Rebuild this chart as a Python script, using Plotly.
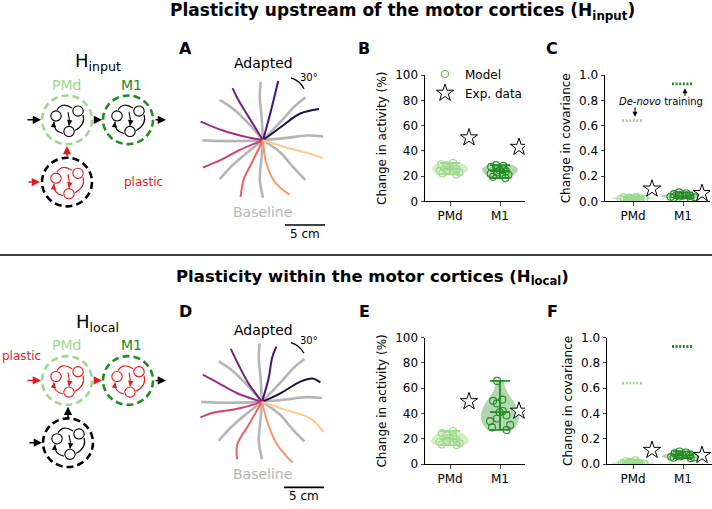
import plotly.graph_objects as go
import numpy as np

W, H = 712, 509

# ---------------- data ----------------
categories = ["PMd", "M1"]
cat_pos = [0, 1]

# H_input: change in activity (%) of model networks
act_input_pmd = [30.5, 29.5, 28.6, 27.8, 26.8, 25.8, 25.0, 24.2, 23.0, 22.2, 21.4]
act_input_m1 = [28.8, 28.2, 27.4, 26.4, 25.6, 24.8, 24.0, 23.0, 22.0, 21.0, 19.6, 18.5]
# H_input: change in covariance
cov_input_pmd = [0.038, 0.034, 0.031, 0.029, 0.027, 0.025, 0.024, 0.022, 0.020, 0.018, 0.016]
cov_input_m1 = [0.072, 0.065, 0.058, 0.053, 0.049, 0.046, 0.043, 0.040, 0.037, 0.033, 0.030, 0.026]
# H_local: change in activity (%)
act_local_pmd = [26.2, 24.5, 23.0, 22.0, 20.5, 19.5, 18.5, 17.5, 16.5, 15.5, 15.0]
act_local_m1 = [65.8, 51.0, 50.0, 48.0, 42.0, 41.0, 38.5, 36.0, 34.0, 31.0, 29.0, 27.0]
# H_local: change in covariance
cov_local_pmd = [0.030, 0.022, 0.018, 0.014, 0.012, 0.010, 0.008, 0.006, 0.005, 0.003, 0.002]
cov_local_m1 = [0.100, 0.092, 0.085, 0.078, 0.072, 0.068, 0.064, 0.060, 0.057, 0.054, 0.050, 0.047]

# experimental data (PMd, M1)
exp_act_input = [50.5, 43.0]
exp_cov_input = [0.10, 0.065]
exp_act_local = [49.5, 42.0]
exp_cov_local = [0.11, 0.07]
# de-novo training covariance change (PMd, M1)
denovo_cov = [0.64, 0.93]

# reaching trajectories (cm, relative to start)
baseline_x = [[0, -0.2, -0.4, -0.3], [0, 2.5, 4.0, 5.3], [0, 3.0, 5.5, 7.5], [0, 2.2, 3.8, 5.3],
              [0, -0.2, -0.4, 0.0], [0, -2.0, -3.9, -5.4], [0, -2.8, -5.4, -7.6], [0, -1.6, -3.7, -5.4]]
baseline_y = [[0, 3.3, 5.5, 7.5], [0, 2.7, 4.4, 5.5], [0, 0.3, 0.6, 0.5], [0, -1.6, -3.5, -5.1],
              [0, -2.5, -5.0, -7.4], [0, -1.6, -3.3, -5.0], [0, -0.1, -0.1, 0.0], [0, 1.9, 4.0, 5.2]]
adapted_input_x = [[0, 2.5, 4.6, 7.0], [0, 0.9, 1.5, 1.9], [0, -1.8, -3.2, -3.8], [0, -2.0, -5.0, -7.8],
                   [0, -2.9, -5.4, -7.5], [0, -1.4, -2.4, -2.8], [0, 0.4, 1.5, 3.3], [0, 2.5, 5.0, 7.5]]
adapted_input_y = [[0, 1.9, 3.4, 4.0], [0, 3.4, 5.9, 7.6], [0, 3.0, 5.4, 6.7], [0, 0.4, 1.25, 2.4],
                   [0, -1.25, -2.6, -3.5], [0, -2.9, -5.0, -7.3], [0, -2.9, -5.4, -7.0], [0, -0.8, -1.5, -2.3]]
adapted_local_x = [[0, 2.3, 4.8, 6.3, 7.3], [0, 0.8, 1.3, 1.8], [0, -1.7, -3.1, -3.9], [0, -3.1, -5.6, -7.4],
                   [0, -3.1, -6.1, -7.7], [0, -1.7, -3.1, -3.1], [0, 0.8, 1.9, 3.8], [0, 3.1, 6.0, 7.7]]
adapted_local_y = [[0, 1.1, 2.6, 3.0, 2.5], [0, 2.9, 5.8, 7.1], [0, 2.4, 5.1, 6.8], [0, 1.1, 2.5, 3.5],
                   [0, -0.9, -1.4, -2.0], [0, -3.0, -5.5, -7.4], [0, -3.0, -5.5, -7.8], [0, -1.1, -2.1, -3.9]]
scale_bar_cm = 5

# ---------------- styles ----------------
FONT = "DejaVu Sans"
PMD_C = "#9fd88c"
M1_C = "#228b22"
PMD_FILL = "rgba(159,216,140,0.45)"
M1_FILL = "rgba(34,139,34,0.35)"
GRAY = "#b5b5b5"
MAGMA = ["#1c1044", "#4a1079", "#721f81", "#9e2f7f", "#cd4071", "#f1605d", "#fd9567", "#fec98d"]
RED = "#e31a1c"


def dx(a, b):
    return [a / W, b / W]


def dy(top, bottom):
    return [1 - bottom / H, 1 - top / H]


fig = go.Figure()

layout = dict(
    width=W, height=H, margin=dict(l=0, r=0, t=0, b=0),
    paper_bgcolor="white", plot_bgcolor="rgba(0,0,0,0)",
    font=dict(family=FONT, size=12, color="black"),
    violinmode="overlay", hovermode=False,
    legend=dict(x=425 / W, y=1 - 54 / H, xanchor="left", yanchor="top",
                bgcolor="rgba(0,0,0,0)", font=dict(size=12), itemwidth=30,
                tracegroupgap=0),
)


def data_axes(n, xdom, ydom, yrange, ytick, ytext, ytitle, xrange):
    layout[f"xaxis{n}"] = dict(domain=xdom, range=xrange, anchor=f"y{n}", tickvals=cat_pos,
                               ticktext=categories, showline=True, linecolor="black", linewidth=1,
                               ticks="outside", ticklen=3.5, showgrid=False, zeroline=False,
                               tickfont=dict(size=12), fixedrange=True)
    layout[f"yaxis{n}"] = dict(domain=ydom, range=yrange, anchor=f"x{n}", tickvals=ytick,
                               ticktext=ytext, showline=True, linecolor="black", linewidth=1,
                               ticks="outside", ticklen=3.5, showgrid=False, zeroline=False,
                               tickfont=dict(size=12), fixedrange=True,
                               title=dict(text=ytitle, font=dict(size=12), standoff=5))


act_ticks = [0, 20, 40, 60, 80, 100]
cov_ticks = [0, 0.2, 0.4, 0.6, 0.8, 1.0]
cov_text = [f"{v:.1f}" for v in cov_ticks]
data_axes(1, dx(425, 525), dy(70, 200), [0, 100], act_ticks, [str(v) for v in act_ticks],
          "Change in activity (%)", [-0.5, 1.5])
data_axes(2, dx(605, 710), dy(70, 200), [0, 1], cov_ticks, cov_text,
          "Change in covariance", [-0.56, 1.54])
data_axes(3, dx(425, 525), dy(340, 470), [0, 100], act_ticks, [str(v) for v in act_ticks],
          "Change in activity (%)", [-0.5, 1.5])
data_axes(4, dx(607, 712), dy(340, 470), [0, 1], cov_ticks, cov_text,
          "Change in covariance", [-0.52, 1.58])

# trajectory axes (cm)
for n, xdom, ydom in [(5, dx(183, 343), dy(47, 237)), (6, dx(182, 342), dy(316, 506))]:
    layout[f"xaxis{n}"] = dict(domain=xdom, range=[-10, 10], anchor=f"y{n}", visible=False, fixedrange=True)
    layout[f"yaxis{n}"] = dict(domain=ydom, range=[-12.5, 11.25], anchor=f"x{n}", visible=False, fixedrange=True)
# overlay pixel axis for diagrams & labels
layout["xaxis7"] = dict(domain=[0, 1], range=[0, W], anchor="y7", visible=False, fixedrange=True)
layout["yaxis7"] = dict(domain=[0, 1], range=[H, 0], anchor="x7", visible=False, fixedrange=True)


def add_violin(vals, pos, color, fill, n, width):
    fig.add_trace(go.Violin(
        x=[pos] * len(vals), y=vals, xaxis=f"x{n}", yaxis=f"y{n}", width=width,
        spanmode="hard", fillcolor=fill, line=dict(color=fill, width=0.5),
        points="all", pointpos=0, jitter=0.7,
        marker=dict(symbol="circle-open", size=7, color=color, line=dict(width=1.1)),
        box_visible=False, meanline_visible=False, showlegend=False, hoverinfo="skip",
        scalemode="width", orientation="v"))
    lo, hi, mean = min(vals), max(vals), float(np.mean(vals))
    cap = 0.2
    fig.add_trace(go.Scatter(
        x=[pos, pos, None, pos - cap, pos + cap, None, pos - cap, pos + cap, None, pos - cap, pos + cap],
        y=[lo, hi, None, lo, lo, None, hi, hi, None, mean, mean],
        mode="lines", line=dict(color=color, width=1.8), xaxis=f"x{n}", yaxis=f"y{n}",
        showlegend=False, hoverinfo="skip"))


def add_stars(vals, n, legend=False):
    fig.add_trace(go.Scatter(
        x=[p + 0.38 for p in cat_pos], y=vals, mode="markers", xaxis=f"x{n}", yaxis=f"y{n}",
        marker=dict(symbol="star", size=13, color="white", line=dict(color="black", width=1)),
        name="Exp. data", showlegend=legend, hoverinfo="skip"))


# legend model marker
fig.add_trace(go.Scatter(x=[None], y=[None], mode="markers", xaxis="x1", yaxis="y1", name="Model",
                         marker=dict(symbol="circle-open", size=7, color="#6cc35a", line=dict(width=1.2))))

add_violin(act_input_pmd, 0, PMD_C, PMD_FILL, 1, 0.7)
add_violin(act_input_m1, 1, M1_C, M1_FILL, 1, 0.7)
add_stars(exp_act_input, 1, legend=True)

add_violin(cov_input_pmd, 0, PMD_C, PMD_FILL, 2, 0.85)
add_violin(cov_input_m1, 1, M1_C, M1_FILL, 2, 0.85)
add_stars(exp_cov_input, 2)

add_violin(act_local_pmd, 0, PMD_C, PMD_FILL, 3, 0.75)
add_violin(act_local_m1, 1, M1_C, M1_FILL, 3, 0.75)
add_stars(exp_act_local, 3)

add_violin(cov_local_pmd, 0, PMD_C, PMD_FILL, 4, 0.85)
add_violin(cov_local_m1, 1, M1_C, M1_FILL, 4, 0.85)
add_stars(exp_cov_local, 4)

# de-novo training dotted levels
for n in (2, 4):
    for pos, v, c in zip(cat_pos, denovo_cov, [PMD_C, M1_C]):
        fig.add_trace(go.Scatter(x=[pos - 0.22, pos + 0.2], y=[v, v], mode="lines",
                                 line=dict(color=c, width=2.8, dash="2px,1.6px"),
                                 xaxis=f"x{n}", yaxis=f"y{n}", showlegend=False, hoverinfo="skip"))

# trajectories
for n, ax_, ay_ in [(5, adapted_input_x, adapted_input_y), (6, adapted_local_x, adapted_local_y)]:
    for bx, by in zip(baseline_x, baseline_y):
        fig.add_trace(go.Scatter(x=bx, y=by, mode="lines", line=dict(color=GRAY, width=2.6, shape="spline"),
                                 xaxis=f"x{n}", yaxis=f"y{n}", showlegend=False, hoverinfo="skip"))
    for tx, ty, c in zip(ax_, ay_, MAGMA):
        fig.add_trace(go.Scatter(x=tx, y=ty, mode="lines", line=dict(color=c, width=2.0, shape="spline"),
                                 xaxis=f"x{n}", yaxis=f"y{n}", showlegend=False, hoverinfo="skip"))

shapes = []
annotations = []


def txt(x, y, text, size=11, color="black", xanchor="center", ref="7", **kw):
    annotations.append(dict(x=x, y=y, xref=f"x{ref}", yref=f"y{ref}", text=text, showarrow=False,
                            font=dict(size=size, color=color, family=FONT), xanchor=xanchor,
                            yanchor="middle", **kw))


def arrow(hx, hy, axo, ayo, color="black", width=1.5, size=1.1):
    annotations.append(dict(x=hx, y=hy, xref="x7", yref="y7", ax=axo, ay=ayo, text="",
                            showarrow=True, arrowhead=2, arrowsize=size, arrowwidth=width,
                            arrowcolor=color, standoff=0))


# separator
shapes.append(dict(type="line", xref="paper", yref="y7", x0=0, x1=1, y0=255, y1=255,
                   line=dict(color="black", width=1.5)))

# titles
txt(402, 5, "<b>Plasticity upstream of the motor cortices (H<sub>input</sub>)</b>", size=17)
txt(372, 278, "<b>Plasticity within the motor cortices (H<sub>local</sub>)</b>", size=16.5)

# panel letters
for L, x, y in [("A", 185, 43), ("B", 364, 43), ("C", 552, 43), ("D", 185, 313), ("E", 364, 313), ("F", 552, 313)]:
    txt(x, y, f"<b>{L}</b>", size=16)

# trajectory labels
for cy_adapt, cy_base, cy_deg in [(58, 211, 73), (332, 480, 343)]:
    txt(263, cy_adapt, "Adapted", size=14)
    txt(262, cy_base, "Baseline", size=14, color=GRAY)
    txt(298, cy_deg, "30°", size=10, xanchor="left")
# curved 30° arrows
for (sx, sy, cx, cy, ex, ey) in [(304, 84, 300, 76, 291, 73), (304, 356, 300, 348, 291, 345)]:
    shapes.append(dict(type="path", xref="x7", yref="y7", path=f"M {sx},{sy} Q {cx},{cy} {ex},{ey}",
                       line=dict(color="black", width=1.3)))
    arrow(ex - 1, ey - 0.5, 3, 1.5, width=1.3, size=1.0)

# scale bars
for n, ybar, ytxt in [(5, -10.9, -12.0), (6, -11.0, -12.1)]:
    shapes.append(dict(type="line", xref=f"x{n}", yref=f"y{n}", x0=2.75, x1=2.75 + scale_bar_cm,
                       y0=ybar, y1=ybar, line=dict(color="black", width=1.6)))
    txt(2.75 + scale_bar_cm / 2, ytxt, f"{scale_bar_cm} cm", size=12, ref=str(n))


# network diagrams
def net(cx, cy, ring, inner, dash="7px,4px"):
    R = 25
    shapes.append(dict(type="circle", xref="x7", yref="y7", x0=cx - R, x1=cx + R, y0=cy - R, y1=cy + R,
                       line=dict(color=ring, width=2.6, dash=dash)))
    for ox, oy in [(-11, -4), (11, -9), (2, 12)]:
        r = 5.2
        shapes.append(dict(type="circle", xref="x7", yref="y7", x0=cx + ox - r, x1=cx + ox + r,
                           y0=cy + oy - r, y1=cy + oy + r, line=dict(color=inner, width=1.1)))
    for (sx, sy, qx, qy, ex, ey) in [(-10, -10, -5, -19, 5, -12), (1, -8, 3, -1, 2, 6),
                                     (16, -5, 19, 5, 8, 11), (-4, 14, -14, 12, -13, 2)]:
        shapes.append(dict(type="path", xref="x7", yref="y7",
                           path=f"M {cx+sx},{cy+sy} Q {cx+qx},{cy+qy} {cx+ex},{cy+ey}",
                           line=dict(color=inner, width=1.1)))
        tx, ty = ex - qx, ey - qy
        nrm = (tx ** 2 + ty ** 2) ** 0.5
        arrow(cx + ex, cy + ey, -tx / nrm * 3, -ty / nrm * 3, color=inner, width=1.1, size=1.0)


# H_input diagram
txt(98, 57, "H<sub>input</sub>", size=18)
txt(66, 80, "PMd", size=14, color=PMD_C)
txt(131, 80, "M1", size=14, color=M1_C)
net(67, 116, PMD_C, "black")
net(128, 116, M1_C, "black")
net(67, 180, "black", RED)
arrow(41, 116, -15, 0)
arrow(102, 116, -9, 0)
arrow(166, 116, -12, 0)
arrow(67, 143, 0, 12, color=RED)
arrow(40, 180, -13, 0, color=RED)
txt(122, 180, "plastic", size=12, color=RED, xanchor="left")

# H_local diagram
txt(97, 325, "H<sub>local</sub>", size=18)
txt(66, 348, "PMd", size=14, color=PMD_C)
txt(131, 348, "M1", size=14, color=M1_C)
net(67, 384, PMD_C, RED)
net(128, 384, M1_C, RED)
net(68, 448, "black", "black")
arrow(41, 384, -15, 0, color=RED)
arrow(102, 384, -9, 0, color=RED)
arrow(166, 384, -12, 0)
arrow(68, 411, 0, 12)
arrow(42, 448, -14, 0)
txt(0, 359, "plastic", size=12, color=RED, xanchor="left")

# De-novo annotation (panel C)
annotations.append(dict(x=0.55, y=0.79, xref="x2", yref="y2", showarrow=False,
                        text="<i>De-novo</i> training", font=dict(size=10, family=FONT)))
annotations.append(dict(x=0.04, y=0.67, xref="x2", yref="y2", ax=0, ay=-11, text="", showarrow=True,
                        arrowhead=2, arrowsize=0.9, arrowwidth=1.1, arrowcolor="black"))
annotations.append(dict(x=1.04, y=0.895, xref="x2", yref="y2", ax=0, ay=9, text="", showarrow=True,
                        arrowhead=2, arrowsize=0.9, arrowwidth=1.1, arrowcolor="black"))

layout["shapes"] = shapes
layout["annotations"] = annotations
fig.update_layout(**layout)
fig.write_html("out.html", config={"displayModeBar": False, "staticPlot": True},
               post_script="document.body.style.margin='0';document.body.style.overflow='hidden';")
